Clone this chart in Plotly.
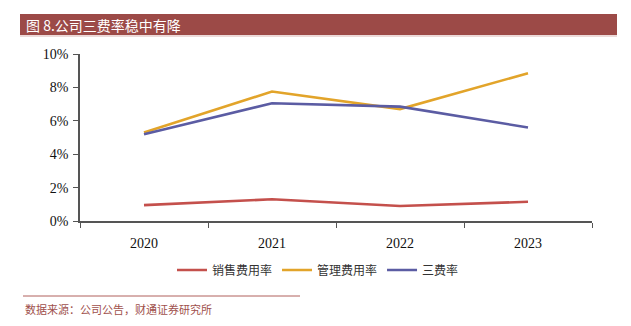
import plotly.graph_objects as go

years = ["2020", "2021", "2022", "2023"]
sales_rate = [0.95, 1.30, 0.90, 1.15]      # 销售费用率 (%)
admin_rate = [5.30, 7.75, 6.70, 8.85]      # 管理费用率 (%)
three_rate = [5.20, 7.05, 6.85, 5.60]      # 三费率 (%)

series = [
    ("销售费用率", sales_rate, "#c4504c"),
    ("管理费用率", admin_rate, "#e2a42a"),
    ("三费率", three_rate, "#5b5ca3"),
]

W, H = 631, 326
L, R, T, B = 80, 39, 54, 105
pw, ph = W - L - R, H - T - B


def px(x):
    return (x - L) / pw


def py(y):
    return (H - B - y) / ph


fig = go.Figure()
for name, vals, color in series:
    fig.add_trace(go.Scatter(x=years, y=vals, name=name, mode="lines",
                             line=dict(color=color, width=2.6)))

cjk = "Noto Sans CJK SC"
serif = "Liberation Serif, Times New Roman, serif"

fig.update_layout(
    width=W, height=H,
    margin=dict(l=L, r=R, t=T, b=B),
    paper_bgcolor="white", plot_bgcolor="white",
    showlegend=True,
    legend=dict(orientation="h", x=px(318), xanchor="center", y=py(270), yanchor="middle",
                font=dict(family=cjk, size=12, color="#333333"),
                itemwidth=30, tracegroupgap=0, bgcolor="rgba(0,0,0,0)"),
    xaxis=dict(type="category", showgrid=False, showline=True, linecolor="#555555", linewidth=1.5,
               ticks="outside", tickson="boundaries", ticklen=5, tickcolor="#555555",
               ticklabelstandoff=8,
               tickfont=dict(family=serif, size=14, color="#111111"), range=[-0.5, 3.5],
               fixedrange=True),
    yaxis=dict(range=[0, 10], dtick=2, ticksuffix="%", showgrid=False, zeroline=False,
               showline=True, linecolor="#555555", linewidth=1.5,
               ticks="outside", ticklen=5, tickcolor="#555555", ticklabelstandoff=2,
               tickfont=dict(family=serif, size=14, color="#111111"), fixedrange=True),
)

# Title banner
fig.add_shape(type="rect", xref="paper", yref="paper",
              x0=px(20), x1=px(617), y0=py(35), y1=py(14),
              fillcolor="#9c4a47", line=dict(width=0), layer="above")
fig.add_shape(type="line", xref="paper", yref="paper",
              x0=px(20), x1=px(617), y0=py(36), y1=py(36),
              line=dict(color="#d9b5b3", width=1))
fig.add_annotation(text="图 8.公司三费率稳中有降", xref="paper", yref="paper",
                   x=px(24), y=py(25), xanchor="left", yanchor="middle", showarrow=False,
                   font=dict(family=cjk, size=14, color="white"))

# Source note
fig.add_shape(type="line", xref="paper", yref="paper",
              x0=px(23), x1=px(300), y0=py(296), y1=py(296),
              line=dict(color="#b0605c", width=1))
fig.add_annotation(text="数据来源：公司公告，财通证券研究所", xref="paper", yref="paper",
                   x=px(23), y=py(309), xanchor="left", yanchor="middle", showarrow=False,
                   font=dict(family=cjk, size=11, color="#a0504c"))

fig.write_html("out.html")
